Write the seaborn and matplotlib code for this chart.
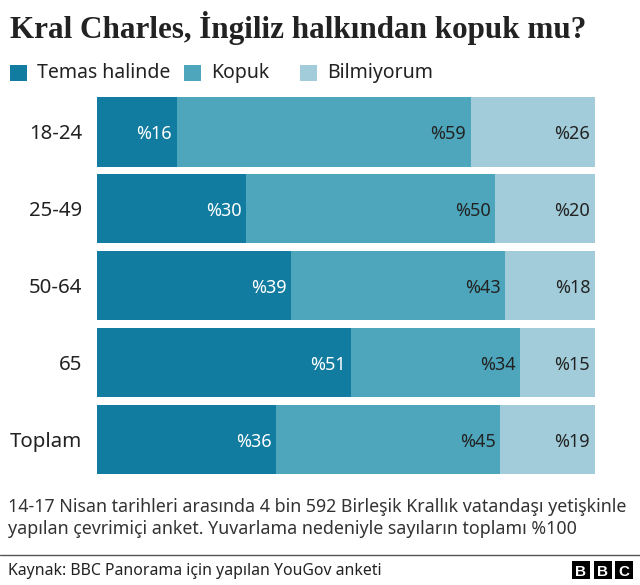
import numpy as np
import pandas as pd
import matplotlib
matplotlib.use("Agg")
import matplotlib.pyplot as plt
from matplotlib.patches import Rectangle
import seaborn as sns

# values as printed on the chart
groups = ["18-24", "25-49", "50-64", "65", "Toplam"]
temas = [16, 30, 39, 51, 36]
kopuk = [59, 50, 43, 34, 45]
bilmiyorum = [26, 20, 18, 15, 19]

series_names = ["Temas halinde", "Kopuk", "Bilmiyorum"]
colors = ["#127CA0", "#4DA6BC", "#A2CCD9"]
label_colors = ["white", "#222222", "#222222"]

W, H = 640, 585

sns.set_theme(style="white")
plt.rcParams["font.family"] = ["Noto Sans", "DejaVu Sans"]

df = pd.DataFrame({"group": groups, "Temas halinde": temas, "Kopuk": kopuk, "Bilmiyorum": bilmiyorum})
# 18-24 adds up to 101 because of rounding, the axis cuts it off at 100
ends = df[series_names].cumsum(axis=1)
ends["group"] = df["group"]

fig = plt.figure(figsize=(W / 100, H / 100), dpi=100, facecolor="white")
ax = fig.add_axes([97 / W, 1 - 478 / H, 498 / W, 384.5 / H])


def fig_text(x, y, s, **kw):
    fig.text(x / W, 1 - y / H, s, va="center", **kw)


# longest first so the shorter stacks sit on top
for name, col in reversed(list(zip(series_names, colors))):
    sns.barplot(data=ends, y="group", x=name, color=col, width=0.9, saturation=1, ax=ax, order=groups, linewidth=0)

for i in range(len(groups)):
    for j, name in enumerate(series_names):
        ax.annotate(f"%{df[name][i]}", (min(ends[name][i], 100), i), xytext=(-3.5, 0), textcoords="offset points",
                    ha="right", va="center_baseline", fontsize=13, color=label_colors[j])

ax.set_xlim(0, 100)
ax.set_ylim(4.5, -0.5)
ax.set_xlabel("")
ax.set_ylabel("")
ax.set_xticks([])
ax.tick_params(axis="y", length=0, pad=10.8, labelsize=14.7, labelcolor="#222222")
sns.despine(ax=ax, left=True, bottom=True)

fig_text(10, 28, "Kral Charles, İngiliz halkından kopuk mu?", fontsize=22.4, color="#222222", fontweight="bold",
         family=["Liberation Serif", "DejaVu Serif"])

# legend spacing is uneven in the original, so place it by hand
for name, col, sq_x, txt_x in zip(series_names, colors, [10, 184, 300], [37, 211, 327]):
    fig.add_artist(Rectangle((sq_x / W, 1 - 81 / H), 16.5 / W, 16 / H, transform=fig.transFigure, color=col, lw=0))
    fig_text(txt_x, 73, name, fontsize=14, color="#222222")

fig_text(8, 507, "14-17 Nisan tarihleri arasında 4 bin 592 Birleşik Krallık vatandaşı yetişkinle", fontsize=12.8, color="#333333")
fig_text(8, 529, "yapılan çevrimiçi anket. Yuvarlama nedeniyle sayıların toplamı %100", fontsize=12.8, color="#333333")

fig.add_artist(plt.Line2D([0, 1], [1 - 554.5 / H] * 2, color="#555555", lw=1))
fig_text(8, 571, "Kaynak: BBC Panorama için yapılan YouGov anketi", fontsize=11.4, color="#222222")

# BBC blocks
for sq_x, letter in zip([572, 594, 615], "BBC"):
    fig.add_artist(Rectangle((sq_x / W, 1 - 579 / H), 18 / W, 18 / H, transform=fig.transFigure, color="black", lw=0))
    fig.text((sq_x + 9) / W, 1 - 570 / H, letter, color="white", fontsize=11, fontweight="bold", ha="center", va="center_baseline",
             family="Liberation Sans")

fig.savefig("out.png", dpi=100, facecolor="white")
